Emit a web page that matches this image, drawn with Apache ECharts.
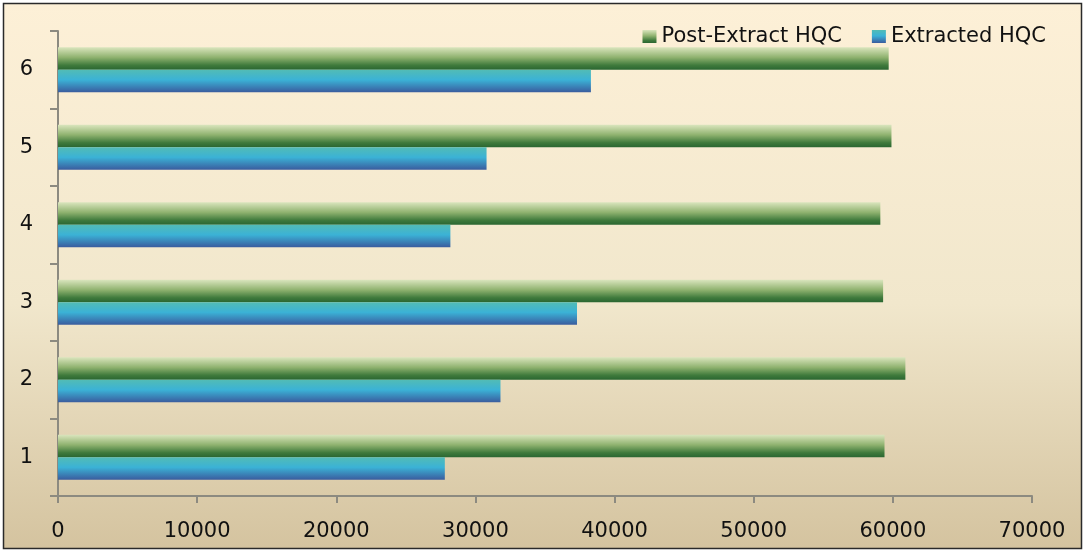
<!DOCTYPE html>
<html>
<head>
<meta charset="utf-8">
<script src="https://cdn.jsdelivr.net/npm/echarts@6/dist/echarts.min.js"></script>
<style>
html,body{margin:0;padding:0;background:#fff;}
#c{width:1087px;height:556px;}
</style>
</head>
<body>
<div id="c"></div>
<script>
const categories = ['1', '2', '3', '4', '5', '6'];
const postExtract = [59400, 60900, 59300, 59100, 59900, 59700];
const extracted = [27800, 31800, 37300, 28200, 30800, 38300];
const xTicks = { min: 0, max: 70000, interval: 10000 };

const chart = echarts.init(document.getElementById('c'));
const G = echarts.graphic.LinearGradient;
const greenGrad = new G(0, 0, 0, 1, [
  { offset: 0, color: '#dae5bd' },
  { offset: 0.45, color: '#8fb26f' },
  { offset: 0.8, color: '#3f7a3c' },
  { offset: 1, color: '#2a6631' }
]);
const blueGrad = new G(0, 0, 0, 1, [
  { offset: 0, color: '#52bcb5' },
  { offset: 0.45, color: '#3bb2d6' },
  { offset: 1, color: '#3a5c9e' }
]);
const font = 'DejaVu Sans';
chart.setOption({
  animation: false,
  graphic: [{
    type: 'rect', z: -10, silent: true,
    shape: { x: 3.5, y: 3.5, width: 1078, height: 545 },
    style: {
      fill: new G(0, 0, 0, 1, [
        { offset: 0, color: '#fdf0d7' },
        { offset: 0.55, color: '#f1e7cc' },
        { offset: 1, color: '#d4c39f' }
      ]),
      stroke: '#2a2a2a', lineWidth: 1.5
    }
  }],
  legend: {
    data: ['Post-Extract HQC', 'Extracted HQC'],
    right: 36, top: 21, icon: 'rect',
    itemWidth: 14, itemHeight: 13, itemGap: 30,
    textStyle: { fontFamily: font, fontSize: 21, color: '#111' }
  },
  grid: { left: 58, right: 55, top: 31, bottom: 60, containLabel: false },
  xAxis: {
    type: 'value', min: xTicks.min, max: xTicks.max, interval: xTicks.interval,
    axisLine: { show: true, lineStyle: { color: '#8c8a80', width: 2 } },
    axisTick: { show: true, length: 7, lineStyle: { color: '#8c8a80', width: 2 } },
    splitLine: { show: false },
    axisLabel: { margin: 25, fontFamily: font, fontSize: 21, color: '#111',
      formatter: v => String(v) }
  },
  yAxis: {
    type: 'category', data: categories,
    axisLine: { show: true, lineStyle: { color: '#8c8a80', width: 2 } },
    axisTick: { show: true, length: 8, lineStyle: { color: '#8c8a80', width: 2 } },
    axisLabel: { margin: 25, fontFamily: font, fontSize: 21, color: '#111' }
  },
  series: [
    { name: 'Post-Extract HQC', type: 'bar', data: postExtract, barGap: '0%', barCategoryGap: '42%',
      itemStyle: { color: greenGrad } },
    { name: 'Extracted HQC', type: 'bar', data: extracted, barGap: '0%', barCategoryGap: '42%',
      itemStyle: { color: blueGrad } }
  ]
});
</script>
</body>
</html>
